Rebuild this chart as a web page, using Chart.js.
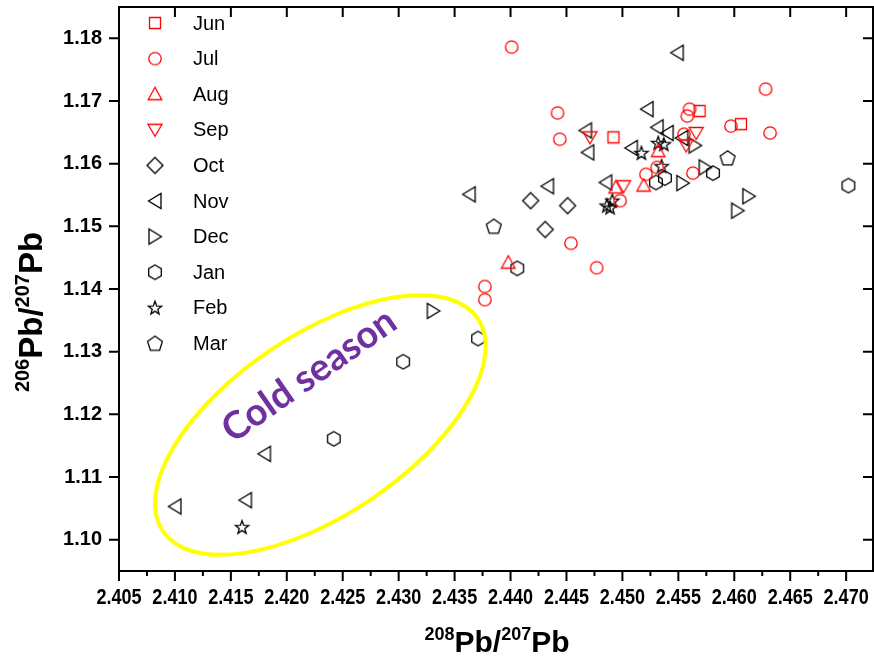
<!DOCTYPE html>
<html>
<head>
<meta charset="utf-8">
<script src="https://cdn.jsdelivr.net/npm/chart.js@4.4.1/dist/chart.umd.min.js"></script>
<style>
  html, body { margin: 0; padding: 0; background: #fff; }
  #wrap { width: 874px; height: 659px; }
</style>
</head>
<body>
<div id="wrap"><canvas id="leadChart" width="874" height="659"></canvas></div>
<script>
// 208Pb/207Pb (x) vs 206Pb/207Pb (y), one series per sampling month
const months = ['Jun', 'Jul', 'Aug', 'Sep', 'Oct', 'Nov', 'Dec', 'Jan', 'Feb', 'Mar'];

const junX = [2.4492, 2.4569, 2.4606];
const junY = [1.1642, 1.1684, 1.1663];
const julX = [2.4401, 2.4442, 2.4444, 2.4454, 2.4477, 2.4377, 2.4377, 2.4628, 2.4632, 2.4597, 2.4560, 2.4558, 2.4555, 2.4521, 2.4531, 2.4563, 2.4498];
const julY = [1.1786, 1.1681, 1.1639, 1.1473, 1.1434, 1.1404, 1.1383, 1.1719, 1.1649, 1.1660, 1.1687, 1.1676, 1.1647, 1.1583, 1.1594, 1.1585, 1.1541];
const augX = [2.4398, 2.4532, 2.4519, 2.4494];
const augY = [1.1442, 1.1620, 1.1565, 1.1562];
const sepX = [2.4471, 2.4566, 2.4557, 2.4501];
const sepY = [1.1642, 1.1649, 1.1629, 1.1564];
const octX = [2.4418, 2.4451, 2.4431];
const octY = [1.1541, 1.1533, 1.1495];
const novX = [2.4549, 2.4522, 2.4467, 2.4469, 2.4531, 2.4540, 2.4553, 2.4508, 2.4485, 2.4363, 2.4433, 2.4100, 2.4163, 2.4180];
const novY = [1.1777, 1.1687, 1.1653, 1.1618, 1.1658, 1.1649, 1.1641, 1.1625, 1.1570, 1.1551, 1.1564, 1.1053, 1.1063, 1.1137];
const decX = [2.4331, 2.4565, 2.4554, 2.4574, 2.4603, 2.4613];
const decY = [1.1365, 1.1629, 1.1569, 1.1594, 1.1525, 1.1548];
const janX = [2.4242, 2.4304, 2.4371, 2.4406, 2.4530, 2.4538, 2.4581, 2.4702];
const janY = [1.1161, 1.1284, 1.1321, 1.1433, 1.1570, 1.1577, 1.1585, 1.1565];
const febX = [2.4160, 2.4517, 2.4532, 2.4537, 2.4535, 2.4491, 2.4486, 2.4489];
const febY = [1.1020, 1.1617, 1.1633, 1.1631, 1.1596, 1.1541, 1.1533, 1.1530];
const marX = [2.4385, 2.4594];
const marY = [1.1500, 1.1609];

const xTicks = [2.405, 2.410, 2.415, 2.420, 2.425, 2.430, 2.435, 2.440, 2.445, 2.450, 2.455, 2.460, 2.465, 2.470];
const yTicks = [1.10, 1.11, 1.12, 1.13, 1.14, 1.15, 1.16, 1.17, 1.18];

// cold-season group annotation (centre in data units)
const coldLabel = 'Cold season';
const coldCentre = [2.4230, 1.1183];
const coldTextAt = [2.4220, 1.1262];

const seriesX = [junX, julX, augX, sepX, octX, novX, decX, janX, febX, marX];
const seriesY = [junY, julY, augY, sepY, octY, novY, decY, janY, febY, marY];
const shapes = ['square', 'circle', 'up', 'down', 'diamond', 'left', 'right', 'hexagon', 'star', 'pentagon'];
const colors = ['#ff0000', '#ff0000', '#ff0000', '#ff0000', '#000', '#000', '#000', '#000', '#000', '#000'];

function regular(ctx, cx, cy, r, n, start) {
  for (let i = 0; i < n; i++) {
    const a = (start + i * 360 / n) * Math.PI / 180;
    const px = cx + r * Math.cos(a), py = cy + r * Math.sin(a);
    if (i === 0) ctx.moveTo(px, py); else ctx.lineTo(px, py);
  }
  ctx.closePath();
}

function makeMarker(shape, color) {
  const c = document.createElement('canvas');
  c.width = 22; c.height = 22;
  const ctx = c.getContext('2d');
  const m = 11;
  ctx.strokeStyle = color;
  ctx.lineWidth = 1.3;
  ctx.beginPath();
  if (shape === 'square') ctx.rect(m - 5.5, m - 5.5, 11, 11);
  else if (shape === 'circle') ctx.arc(m, m, 6.2, 0, Math.PI * 2);
  else if (shape === 'up') { ctx.moveTo(m, m - 7); ctx.lineTo(m + 6.8, m + 5.5); ctx.lineTo(m - 6.8, m + 5.5); ctx.closePath(); }
  else if (shape === 'down') { ctx.moveTo(m - 7, m - 5.5); ctx.lineTo(m + 7, m - 5.5); ctx.lineTo(m, m + 6.5); ctx.closePath(); }
  else if (shape === 'left') { ctx.moveTo(m - 6.5, m); ctx.lineTo(m + 6, m - 7.5); ctx.lineTo(m + 6, m + 7.5); ctx.closePath(); }
  else if (shape === 'right') { ctx.moveTo(m + 6.5, m); ctx.lineTo(m - 6, m - 7.5); ctx.lineTo(m - 6, m + 7.5); ctx.closePath(); }
  else if (shape === 'diamond') regular(ctx, m, m, 8, 4, -90);
  else if (shape === 'hexagon') regular(ctx, m, m, 7.3, 6, -90);
  else if (shape === 'pentagon') regular(ctx, m, m + 0.5, 7.8, 5, -90);
  else if (shape === 'star') {
    for (let i = 0; i < 10; i++) {
      const r = i % 2 ? 2.9 : 7;
      const a = (-90 + i * 36) * Math.PI / 180;
      const px = m + r * Math.cos(a), py = m + 0.5 + r * Math.sin(a);
      if (i === 0) ctx.moveTo(px, py); else ctx.lineTo(px, py);
    }
    ctx.closePath();
  }
  ctx.stroke();
  return c;
}

const markers = shapes.map((s, i) => makeMarker(s, colors[i]));

const datasets = months.map((name, i) => ({
  label: name,
  data: seriesX[i].map((x, j) => ({ x: x, y: seriesY[i][j] })),
  pointStyle: markers[i],
  pointRadius: 7,
  pointHoverRadius: 7,
  showLine: false
}));

// text with superscript mass numbers, centred on x
function drawIsotope(ctx, parts, x, y, big, small) {
  let total = 0;
  parts.forEach(p => {
    ctx.font = 'bold ' + (p[1] ? small : big) + 'px "Liberation Sans", Arial, sans-serif';
    total += ctx.measureText(p[0]).width;
  });
  let cx = x - total / 2;
  ctx.textAlign = 'left';
  ctx.textBaseline = 'alphabetic';
  parts.forEach(p => {
    ctx.font = 'bold ' + (p[1] ? small : big) + 'px "Liberation Sans", Arial, sans-serif';
    ctx.fillText(p[0], cx, p[1] ? y - big * 0.4 : y);
    cx += ctx.measureText(p[0]).width;
  });
}

const framePlugin = {
  id: 'frame',
  afterDatasetsDraw(chart) {
    const ctx = chart.ctx;
    const xa = chart.scales.x, ya = chart.scales.y;
    const { left, right, top, bottom } = chart.chartArea;
    ctx.save();

    // yellow ring round the cold-season samples
    const ex = xa.getPixelForValue(coldCentre[0]), ey = ya.getPixelForValue(coldCentre[1]);
    ctx.strokeStyle = '#ffff00';
    ctx.lineWidth = 4;
    ctx.beginPath();
    ctx.ellipse(ex, ey, 190, 90, -34 * Math.PI / 180, 0, Math.PI * 2);
    ctx.stroke();

    const tx = xa.getPixelForValue(coldTextAt[0]), ty = ya.getPixelForValue(coldTextAt[1]);
    ctx.save();
    ctx.translate(tx, ty);
    ctx.rotate(-35 * Math.PI / 180);
    ctx.fillStyle = '#7030a0';
    ctx.font = 'bold 38px Lato, "Open Sans", sans-serif';
    ctx.textAlign = 'center';
    ctx.textBaseline = 'middle';
    ctx.fillText(coldLabel, 0, 0);
    ctx.restore();

    // frame and ticks
    ctx.strokeStyle = '#000';
    ctx.lineWidth = 2;
    ctx.strokeRect(left, top, right - left, bottom - top);
    ctx.beginPath();
    xTicks.forEach(v => {
      const px = xa.getPixelForValue(v);
      ctx.moveTo(px, bottom); ctx.lineTo(px, bottom + 10);
      ctx.moveTo(px, top); ctx.lineTo(px, top + 10);
      const mid = v + (xTicks[1] - xTicks[0]) / 2;
      if (mid < xa.max) {
        const pm = xa.getPixelForValue(mid);
        ctx.moveTo(pm, bottom); ctx.lineTo(pm, bottom + 5);
      }
    });
    yTicks.forEach(v => {
      const py = ya.getPixelForValue(v);
      ctx.moveTo(left - 10, py); ctx.lineTo(left, py);
      ctx.moveTo(right - 10, py); ctx.lineTo(right, py);
    });
    ctx.stroke();

    // x tick labels, bold and condensed
    ctx.fillStyle = '#000';
    ctx.font = 'bold 22px "Liberation Sans", Arial, sans-serif';
    ctx.textAlign = 'center';
    ctx.textBaseline = 'middle';
    xTicks.forEach(v => {
      const px = xa.getPixelForValue(v);
      ctx.save();
      ctx.translate(px, bottom + 27);
      ctx.scale(0.82, 1);
      ctx.fillText(v.toFixed(3), 0, 0);
      ctx.restore();
    });

    // legend inside the plot
    ctx.font = '20px "Liberation Sans", Arial, sans-serif';
    ctx.textAlign = 'left';
    ctx.textBaseline = 'middle';
    months.forEach((name, i) => {
      const ry = 23 + i * 35.6;
      ctx.drawImage(markers[i], 155 - 11, ry - 11);
      ctx.fillText(name, 193, ry + 1);
    });

    // axis titles
    drawIsotope(ctx, [['208', true], ['Pb/', false], ['207', true], ['Pb', false]], 497, 652, 30, 18);
    ctx.save();
    ctx.translate(42, 312);
    ctx.rotate(-Math.PI / 2);
    drawIsotope(ctx, [['206', true], ['Pb/', false], ['207', true], ['Pb', false]], 0, 0, 33, 20);
    ctx.restore();

    ctx.restore();
  }
};

new Chart(document.getElementById('leadChart'), {
  type: 'scatter',
  data: { datasets: datasets },
  options: {
    responsive: false,
    animation: false,
    layout: { autoPadding: false, padding: { top: 7, right: 1, left: 0, bottom: 0 } },
    plugins: {
      legend: { display: false },
      tooltip: { enabled: false }
    },
    scales: {
      x: {
        type: 'linear',
        min: 2.405,
        max: 2.4724,
        afterFit: s => { s.height = 88; s.paddingLeft = 0; s.paddingRight = 0; },
        afterBuildTicks: s => { s.ticks = xTicks.map(v => ({ value: v })); },
        grid: { display: false, drawTicks: false },
        border: { display: false },
        ticks: { display: false }
      },
      y: {
        type: 'linear',
        min: 1.095,
        max: 1.185,
        afterFit: s => { s.width = 119; s.paddingTop = 0; s.paddingBottom = 0; },
        afterBuildTicks: s => { s.ticks = yTicks.map(v => ({ value: v })); },
        grid: { display: false, drawTicks: false },
        border: { display: false },
        ticks: {
          padding: 17,
          color: '#000',
          font: { family: '"Liberation Sans", Arial, sans-serif', size: 20, weight: 'bold' },
          callback: v => v.toFixed(2)
        }
      }
    }
  },
  plugins: [framePlugin]
});
</script>
</body>
</html>
